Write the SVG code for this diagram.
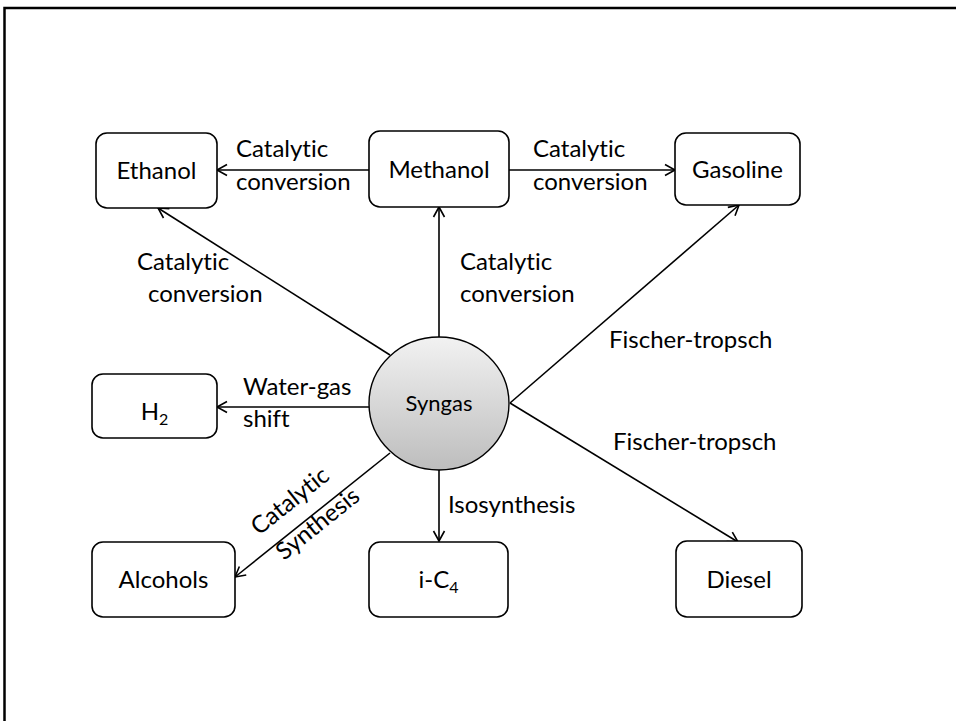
<svg xmlns="http://www.w3.org/2000/svg" width="956" height="721" viewBox="0 0 956 721">
<style>
.box{fill:#fff;stroke:#000;stroke-width:1.6}
.t{font-family:Lato,"Open Sans","Liberation Sans",sans-serif;font-size:24px;fill:#000;font-variant-ligatures:none;font-feature-settings:"liga" 0,"dlig" 0}
.m{text-anchor:middle}
.c{fill:none;stroke:#000;stroke-width:1.6}
</style>
<defs>
<marker id="arr" markerUnits="userSpaceOnUse" markerWidth="14" markerHeight="14" refX="11" refY="6" orient="auto" overflow="visible">
<path d="M1,0.5 L11,6 L1,11.5" fill="none" stroke="#000" stroke-width="1.6"/>
</marker>
<linearGradient id="g" x1="0" y1="0" x2="0" y2="1">
<stop offset="0" stop-color="#f2f2f2"/>
<stop offset="1" stop-color="#bdbdbd"/>
</linearGradient>
</defs>
<rect width="956" height="721" fill="#fff"/>
<path d="M4.5,721 V8 H956" fill="none" stroke="#000" stroke-width="2.5"/>
<g id="connectors">
<path class="c" d="M369,170 L217,170" marker-end="url(#arr)"/>
<path class="c" d="M509,170 L675,170" marker-end="url(#arr)"/>
<path class="c" d="M439,337 L439,207" marker-end="url(#arr)"/>
<path class="c" d="M390,355 L158,208" marker-end="url(#arr)"/>
<path class="c" d="M510,403 L739,205" marker-end="url(#arr)"/>
<path class="c" d="M510,403 L738,542" marker-end="url(#arr)"/>
<path class="c" d="M369,407 L217,407" marker-end="url(#arr)"/>
<path class="c" d="M390,453 L235,577" marker-end="url(#arr)"/>
<path class="c" d="M439,470 L439,541" marker-end="url(#arr)"/>
</g>
<g id="labels">
<text class="t" x="236" y="157">Catalytic</text>
<text class="t" x="236" y="190">conversion</text>
<text class="t" x="533" y="157">Catalytic</text>
<text class="t" x="533" y="190">conversion</text>
<text class="t" x="137" y="270">Catalytic</text>
<text class="t" x="148" y="302">conversion</text>
<text class="t" x="460" y="270">Catalytic</text>
<text class="t" x="460" y="302">conversion</text>
<text class="t" x="243" y="395">Water-gas</text>
<text class="t" x="243" y="427">shift</text>
<text class="t" x="448" y="513">Isosynthesis</text>
<text class="t" x="609" y="348">Fischer-tropsch</text>
<text class="t" x="613" y="450">Fischer-tropsch</text>
<text class="t" x="259" y="536" transform="rotate(-38.7 259 536)">Catalytic</text>
<text class="t" x="284" y="561" transform="rotate(-38.7 284 561)">Synthesis</text>
</g>
<g id="syngas">
<ellipse cx="439" cy="403.5" rx="70" ry="66.5" fill="url(#g)" stroke="#000" stroke-width="1.4"/>
<text class="t m" x="439" y="411" style="font-size:22px">Syngas</text>
</g>
<g id="ethanol">
<rect class="box" x="96" y="133" width="121" height="75" rx="11"/>
<text class="t m" x="156.5" y="179">Ethanol</text>
</g>
<g id="methanol">
<rect class="box" x="369" y="131" width="140" height="76" rx="11"/>
<text class="t m" x="439" y="178">Methanol</text>
</g>
<g id="gasoline">
<rect class="box" x="675" y="133" width="125" height="72" rx="11"/>
<text class="t m" x="737.5" y="178">Gasoline</text>
</g>
<g id="h2">
<rect class="box" x="92" y="374" width="125" height="64" rx="11"/>
<text class="t m" x="154.5" y="420">H<tspan dy="5" style="font-size:16px">2</tspan></text>
</g>
<g id="alcohols">
<rect class="box" x="92" y="542" width="143" height="75" rx="11"/>
<text class="t m" x="163.5" y="588">Alcohols</text>
</g>
<g id="ic4">
<rect class="box" x="369" y="542" width="139" height="75" rx="11"/>
<text class="t m" x="438.5" y="588">i-C<tspan dy="5" style="font-size:16px">4</tspan></text>
</g>
<g id="diesel">
<rect class="box" x="676" y="541" width="126" height="76" rx="11"/>
<text class="t m" x="739" y="588">Diesel</text>
</g>
</svg>
